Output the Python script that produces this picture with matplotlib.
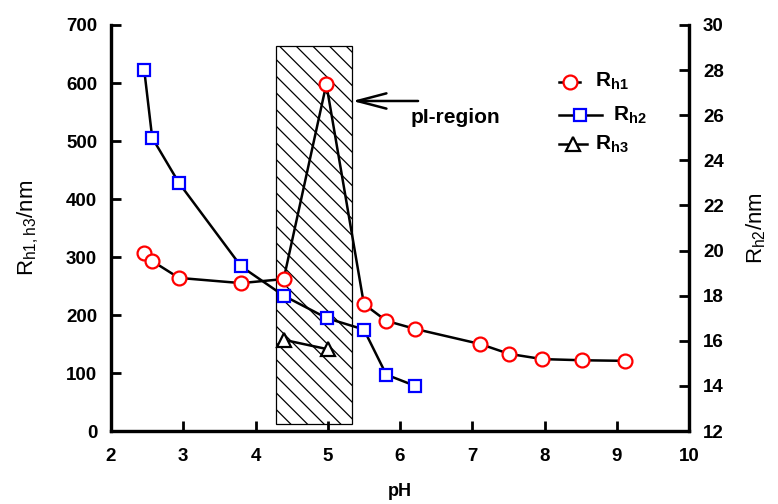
import matplotlib
matplotlib.use("Agg")
import matplotlib.pyplot as plt
from matplotlib.patches import Rectangle
from matplotlib.lines import Line2D

plt.rcParams['font.family'] = ['Liberation Sans', 'DejaVu Sans']
plt.rcParams['mathtext.fontset'] = 'custom'
plt.rcParams['mathtext.rm'] = 'Liberation Sans'
plt.rcParams['mathtext.it'] = 'Liberation Sans'
plt.rcParams['mathtext.bf'] = 'Liberation Sans:bold'
plt.rcParams['hatch.linewidth'] = 0.9

# Hydrodynamic radii versus pH
ph_h1 = [2.46, 2.57, 2.94, 3.80, 4.39, 4.98, 5.50, 5.81, 6.21, 7.11, 7.51, 7.97, 8.52, 9.11]
rh1 = [307, 293, 264, 255, 262, 598, 219, 190, 176, 150, 133, 124, 122, 121]

ph_h2 = [2.46, 2.57, 2.94, 3.80, 4.39, 4.99, 5.50, 5.81, 6.21]
rh2 = [28.0, 25.0, 23.0, 19.3, 18.0, 17.0, 16.5, 14.5, 14.0]

ph_h3 = [4.40, 5.00]
rh3 = [157, 141]

pi_region = (4.28, 5.34)   # pH span of the isoelectric region
pi_height = (12, 664)

x_ticks = [2, 3, 4, 5, 6, 7, 8, 9, 10]
left_ticks = [0, 100, 200, 300, 400, 500, 600, 700]
right_ticks = [12, 14, 16, 18, 20, 22, 24, 26, 28, 30]

fig = plt.figure(figsize=(7.78, 5.04), dpi=100)
ax = fig.add_axes([0.1427, 0.1448, 0.7429, 0.8056])
ax2 = ax.twinx()

ax.add_patch(Rectangle((pi_region[0], pi_height[0]), pi_region[1] - pi_region[0],
                       pi_height[1] - pi_height[0], facecolor='white',
                       edgecolor='black', hatch='\\\\', linewidth=0.9, zorder=1))

circ = dict(marker='o', markersize=10, markeredgewidth=1.6,
            markerfacecolor='white', markeredgecolor='red')
sq = dict(marker='s', markersize=9, markeredgewidth=1.6,
          markerfacecolor='white', markeredgecolor='blue')
tri = dict(marker='^', markersize=10, markeredgewidth=1.6,
           markerfacecolor='white', markeredgecolor='black')

ax.plot(ph_h1, rh1, '-', color='black', lw=1.8, zorder=3, **circ)
ax.plot(ph_h3, rh3, '-', color='black', lw=1.8, zorder=3, **tri)
ax2.plot(ph_h2, rh2, '-', color='black', lw=1.8, zorder=3, **sq)

ax.set_xlim(2, 10)
ax.set_ylim(0, 700)
ax2.set_ylim(12, 30)
ax.set_xticks(x_ticks)
ax.set_yticks(left_ticks)
ax2.set_yticks(right_ticks)

for a in (ax, ax2):
    a.spines['top'].set_visible(False)
    for s in ('left', 'right', 'bottom'):
        a.spines[s].set_linewidth(2.3)
    a.tick_params(direction='in', length=7, width=2, labelsize=13.5, pad=10)
    for lab in a.get_xticklabels() + a.get_yticklabels():
        lab.set_fontweight('bold')
ax.tick_params(axis='x', pad=12)

ax.set_xlabel('pH', fontsize=13, fontweight='bold', labelpad=13)
ax.set_ylabel(r'$\mathregular{R_{h1,h3}}$/nm', fontsize=16, labelpad=18)
ax2.set_ylabel(r'$\mathregular{R_{h2}}$/nm', fontsize=16, labelpad=15)

ax.annotate('', xy=(5.34, 569), xytext=(6.25, 569),
            arrowprops=dict(arrowstyle='->, head_length=2.1, head_width=0.55',
                            lw=1.8, color='black', mutation_scale=10,
                            shrinkA=0, shrinkB=0))
ax.text(6.76, 541, 'pI-region', fontsize=15, fontweight='bold',
        ha='center', va='center')

# Key: short line segments with a centred marker, drawn in axes fractions
key_rows = [
    (0.860, 0.775, 0.811, 0.794, 0.837, r'$\mathregular{R_{h1}}$', circ),
    (0.778, 0.775, 0.849, 0.811, 0.869, r'$\mathregular{R_{h2}}$', sq),
    (0.707, 0.775, 0.824, 0.799, 0.837, r'$\mathregular{R_{h3}}$', tri),
]
for y, x0, x1, xm, xt, label, style in key_rows:
    ax.add_line(Line2D([x0, x1], [y, y], color='black', lw=1.8,
                       transform=ax.transAxes, zorder=4))
    ax.add_line(Line2D([xm], [y], linestyle='none', transform=ax.transAxes,
                       zorder=5, **style))
    ax.text(xt, y, label, transform=ax.transAxes, fontsize=15,
            fontweight='bold', ha='left', va='center')

fig.savefig('out.png', dpi=100)
